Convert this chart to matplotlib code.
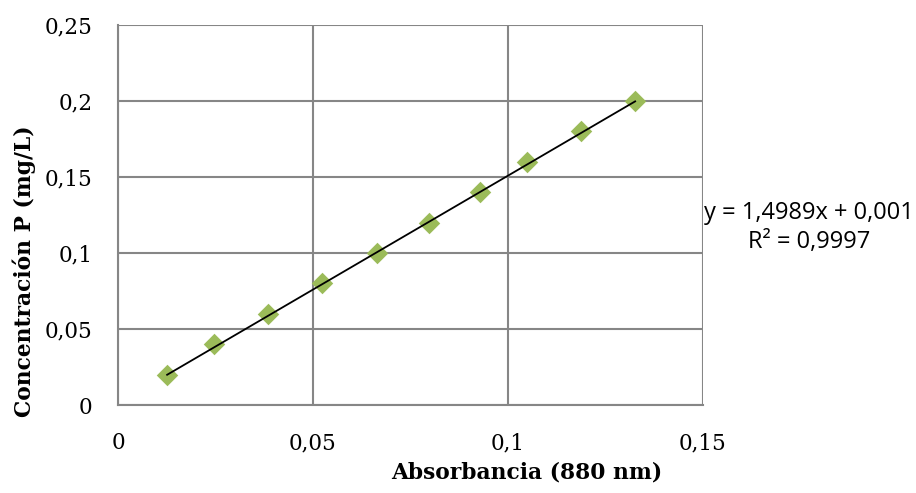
import numpy as np
import matplotlib
matplotlib.use('Agg')
import matplotlib.pyplot as plt
from matplotlib.ticker import FuncFormatter

# datos
absorbancia = [0.0126, 0.0246, 0.0385, 0.0523, 0.0664, 0.0797, 0.0928, 0.1049, 0.1187, 0.1326]
concentracion = [0.02, 0.04, 0.06, 0.08, 0.10, 0.12, 0.14, 0.16, 0.18, 0.20]
pendiente = 1.4989
intercepto = 0.001
x_ticks = [0, 0.05, 0.1, 0.15]
y_ticks = [0, 0.05, 0.1, 0.15, 0.2, 0.25]

def coma(v, pos=None):
    s = f'{v:.2f}'.rstrip('0').rstrip('.')
    return s.replace('.', ',')

fig = plt.figure(figsize=(9.16, 4.93), dpi=100)
ax = fig.add_axes([118/916, 1 - 405/493, 585/916, 380/493])

gris = '#868686'
ax.set_xlim(0, 0.15)
ax.set_ylim(0, 0.25)
ax.set_xticks(x_ticks)
ax.set_yticks(y_ticks)
ax.xaxis.set_major_formatter(FuncFormatter(coma))
ax.yaxis.set_major_formatter(FuncFormatter(coma))
ax.grid(True, color=gris, linewidth=1.5)
ax.set_axisbelow(True)
for s in ax.spines.values():
    s.set_visible(False)
for lado in ['left', 'bottom']:
    ax.spines[lado].set_visible(True)
    ax.spines[lado].set_color(gris)
    ax.spines[lado].set_linewidth(1.5)
ax.tick_params(length=0, labelsize=15.5)
ax.tick_params(axis='y', pad=18.5)
ax.tick_params(axis='x', pad=19.5)
for lab in ax.get_xticklabels() + ax.get_yticklabels():
    lab.set_family('DejaVu Serif')

ax.scatter(absorbancia, concentracion, marker='D', s=120, color='#9BBB59', zorder=3, linewidths=0)
xs = np.array([min(absorbancia), max(absorbancia)])
ax.plot(xs, pendiente * xs + intercepto, color='black', linewidth=1.3, zorder=4)

ax.set_xlabel('Absorbancia (880 nm)', family='DejaVu Serif', fontweight='bold', fontsize=15.7)
ax.set_ylabel('Concentración P (mg/L)', family='DejaVu Serif', fontweight='bold', fontsize=15.7)
ax.xaxis.set_label_coords(0.699, -0.148)
ax.yaxis.set_label_coords(-0.140, 0.353)

fig.text(809/916, 1 - 213/493, 'y = 1,4989x + 0,001', ha='center', va='center',
         fontsize=17, family='Open Sans')
fig.text(809/916, 1 - 242/493, 'R² = 0,9997', ha='center', va='center',
         fontsize=17, family='Open Sans')

fig.savefig('out.png', dpi=100)
